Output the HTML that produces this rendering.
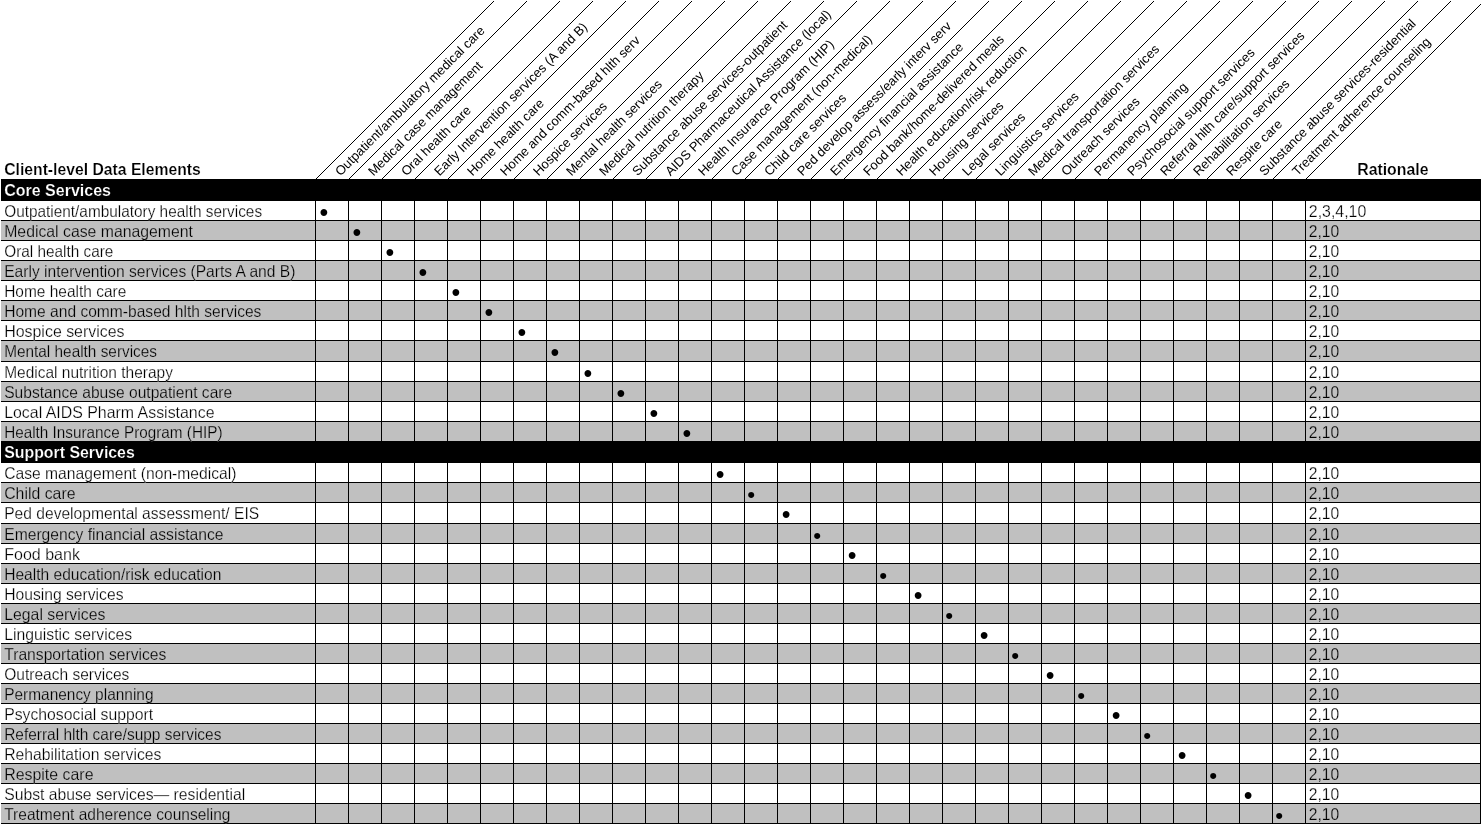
<!DOCTYPE html>
<html lang="en"><head><meta charset="utf-8"><title>Client-level Data Elements</title>
<style>html,body{margin:0;padding:0;background:#fff}body{width:1481px;height:824px;overflow:hidden}svg{display:block}text{font-family:"Liberation Sans",sans-serif;fill:#000}.r{font-size:16.5px}.b{font-size:16.5px;font-weight:bold}.w{fill:#fff}.h{font-size:13.0px}.d{font-size:25px;text-anchor:middle}.e{font-size:22.5px;text-anchor:middle}.tw{stroke:#fff;stroke-width:.25px}.tg{stroke:#c0c0c0;stroke-width:.25px}.b{stroke:#fff;stroke-width:.2px}.b.w{stroke:#000}.g{fill:#c0c0c0}.k{fill:#000}.l{stroke:#000;stroke-width:1;fill:none}</style></head><body>
<svg width="1481" height="824" viewBox="0 0 1481 824">
<rect width="1481" height="824" fill="#fff"/>
<g shape-rendering="crispEdges">
<rect class="g" x="1" y="221" width="1480" height="19"/>
<rect class="g" x="1" y="261" width="1480" height="19"/>
<rect class="g" x="1" y="301" width="1480" height="19"/>
<rect class="g" x="1" y="341" width="1480" height="20"/>
<rect class="g" x="1" y="382" width="1480" height="19"/>
<rect class="g" x="1" y="422" width="1480" height="19"/>
<rect class="g" x="1" y="483" width="1480" height="19"/>
<rect class="g" x="1" y="524" width="1480" height="19"/>
<rect class="g" x="1" y="564" width="1480" height="19"/>
<rect class="g" x="1" y="604" width="1480" height="19"/>
<rect class="g" x="1" y="644" width="1480" height="19"/>
<rect class="g" x="1" y="684" width="1480" height="19"/>
<rect class="g" x="1" y="724" width="1480" height="19"/>
<rect class="g" x="1" y="764" width="1480" height="19"/>
<rect class="g" x="1" y="804" width="1480" height="19"/>
<rect class="k" x="1" y="179" width="1480" height="22"/>
<rect class="k" x="1" y="441" width="1480" height="22"/>
<rect class="k" x="1" y="220" width="1480" height="1"/>
<rect class="k" x="1" y="240" width="1480" height="1"/>
<rect class="k" x="1" y="260" width="1480" height="1"/>
<rect class="k" x="1" y="280" width="1480" height="1"/>
<rect class="k" x="1" y="300" width="1480" height="1"/>
<rect class="k" x="1" y="320" width="1480" height="1"/>
<rect class="k" x="1" y="340" width="1480" height="1"/>
<rect class="k" x="1" y="361" width="1480" height="1"/>
<rect class="k" x="1" y="381" width="1480" height="1"/>
<rect class="k" x="1" y="401" width="1480" height="1"/>
<rect class="k" x="1" y="421" width="1480" height="1"/>
<rect class="k" x="1" y="482" width="1480" height="1"/>
<rect class="k" x="1" y="502" width="1480" height="1"/>
<rect class="k" x="1" y="523" width="1480" height="1"/>
<rect class="k" x="1" y="543" width="1480" height="1"/>
<rect class="k" x="1" y="563" width="1480" height="1"/>
<rect class="k" x="1" y="583" width="1480" height="1"/>
<rect class="k" x="1" y="603" width="1480" height="1"/>
<rect class="k" x="1" y="623" width="1480" height="1"/>
<rect class="k" x="1" y="643" width="1480" height="1"/>
<rect class="k" x="1" y="663" width="1480" height="1"/>
<rect class="k" x="1" y="683" width="1480" height="1"/>
<rect class="k" x="1" y="703" width="1480" height="1"/>
<rect class="k" x="1" y="723" width="1480" height="1"/>
<rect class="k" x="1" y="743" width="1480" height="1"/>
<rect class="k" x="1" y="763" width="1480" height="1"/>
<rect class="k" x="1" y="783" width="1480" height="1"/>
<rect class="k" x="1" y="803" width="1480" height="1"/>
<rect class="k" x="1" y="823" width="1480" height="1"/>
<rect class="k" x="315" y="201" width="1" height="623"/>
<rect class="k" x="348" y="201" width="1" height="623"/>
<rect class="k" x="381" y="201" width="1" height="623"/>
<rect class="k" x="414" y="201" width="1" height="623"/>
<rect class="k" x="447" y="201" width="1" height="623"/>
<rect class="k" x="480" y="201" width="1" height="623"/>
<rect class="k" x="513" y="201" width="1" height="623"/>
<rect class="k" x="546" y="201" width="1" height="623"/>
<rect class="k" x="579" y="201" width="1" height="623"/>
<rect class="k" x="612" y="201" width="1" height="623"/>
<rect class="k" x="645" y="201" width="1" height="623"/>
<rect class="k" x="678" y="201" width="1" height="623"/>
<rect class="k" x="711" y="201" width="1" height="623"/>
<rect class="k" x="744" y="201" width="1" height="623"/>
<rect class="k" x="777" y="201" width="1" height="623"/>
<rect class="k" x="810" y="201" width="1" height="623"/>
<rect class="k" x="843" y="201" width="1" height="623"/>
<rect class="k" x="876" y="201" width="1" height="623"/>
<rect class="k" x="909" y="201" width="1" height="623"/>
<rect class="k" x="942" y="201" width="1" height="623"/>
<rect class="k" x="975" y="201" width="1" height="623"/>
<rect class="k" x="1008" y="201" width="1" height="623"/>
<rect class="k" x="1041" y="201" width="1" height="623"/>
<rect class="k" x="1074" y="201" width="1" height="623"/>
<rect class="k" x="1107" y="201" width="1" height="623"/>
<rect class="k" x="1140" y="201" width="1" height="623"/>
<rect class="k" x="1173" y="201" width="1" height="623"/>
<rect class="k" x="1206" y="201" width="1" height="623"/>
<rect class="k" x="1239" y="201" width="1" height="623"/>
<rect class="k" x="1272" y="201" width="1" height="623"/>
<rect class="k" x="1305" y="201" width="1" height="623"/>
<rect class="k" x="1480" y="201" width="1" height="623"/>
<line class="l" x1="315.5" y1="179.5" x2="496.0" y2="-1.0"/>
<line class="l" x1="348.5" y1="179.5" x2="529.0" y2="-1.0"/>
<line class="l" x1="381.5" y1="179.5" x2="562.0" y2="-1.0"/>
<line class="l" x1="414.5" y1="179.5" x2="595.0" y2="-1.0"/>
<line class="l" x1="447.5" y1="179.5" x2="628.0" y2="-1.0"/>
<line class="l" x1="480.5" y1="179.5" x2="661.0" y2="-1.0"/>
<line class="l" x1="513.5" y1="179.5" x2="694.0" y2="-1.0"/>
<line class="l" x1="546.5" y1="179.5" x2="727.0" y2="-1.0"/>
<line class="l" x1="579.5" y1="179.5" x2="760.0" y2="-1.0"/>
<line class="l" x1="612.5" y1="179.5" x2="793.0" y2="-1.0"/>
<line class="l" x1="645.5" y1="179.5" x2="826.0" y2="-1.0"/>
<line class="l" x1="678.5" y1="179.5" x2="859.0" y2="-1.0"/>
<line class="l" x1="711.5" y1="179.5" x2="892.0" y2="-1.0"/>
<line class="l" x1="744.5" y1="179.5" x2="925.0" y2="-1.0"/>
<line class="l" x1="777.5" y1="179.5" x2="958.0" y2="-1.0"/>
<line class="l" x1="810.5" y1="179.5" x2="991.0" y2="-1.0"/>
<line class="l" x1="843.5" y1="179.5" x2="1024.0" y2="-1.0"/>
<line class="l" x1="876.5" y1="179.5" x2="1057.0" y2="-1.0"/>
<line class="l" x1="909.5" y1="179.5" x2="1090.0" y2="-1.0"/>
<line class="l" x1="942.5" y1="179.5" x2="1123.0" y2="-1.0"/>
<line class="l" x1="975.5" y1="179.5" x2="1156.0" y2="-1.0"/>
<line class="l" x1="1008.5" y1="179.5" x2="1189.0" y2="-1.0"/>
<line class="l" x1="1041.5" y1="179.5" x2="1222.0" y2="-1.0"/>
<line class="l" x1="1074.5" y1="179.5" x2="1255.0" y2="-1.0"/>
<line class="l" x1="1107.5" y1="179.5" x2="1288.0" y2="-1.0"/>
<line class="l" x1="1140.5" y1="179.5" x2="1321.0" y2="-1.0"/>
<line class="l" x1="1173.5" y1="179.5" x2="1354.0" y2="-1.0"/>
<line class="l" x1="1206.5" y1="179.5" x2="1387.0" y2="-1.0"/>
<line class="l" x1="1239.5" y1="179.5" x2="1420.0" y2="-1.0"/>
<line class="l" x1="1272.5" y1="179.5" x2="1453.0" y2="-1.0"/>
<line class="l" x1="1305.5" y1="179.5" x2="1482.0" y2="3.0"/>
<rect x="0" y="0" width="1481" height="1" fill="#fff"/>
</g>
<text class="b" x="4.2" y="175" textLength="196.6" lengthAdjust="spacingAndGlyphs">Client-level Data Elements</text>
<text class="b" x="1357.2" y="175" textLength="71.3" lengthAdjust="spacingAndGlyphs">Rationale</text>
<text class="b w" x="4.2" y="196" textLength="106.8" lengthAdjust="spacingAndGlyphs">Core Services</text>
<text class="b w" x="4.2" y="458" textLength="130.6" lengthAdjust="spacingAndGlyphs">Support Services</text>
<text class="h" transform="translate(340.4 176.6) rotate(-45)">Outpatient/ambulatory medical care</text>
<text class="h" transform="translate(373.4 176.6) rotate(-45)">Medical case management</text>
<text class="h" transform="translate(406.4 176.6) rotate(-45)">Oral health care</text>
<text class="h" transform="translate(439.4 176.6) rotate(-45)">Early Intervention services (A and B)</text>
<text class="h" transform="translate(472.4 176.6) rotate(-45)">Home health care</text>
<text class="h" transform="translate(505.4 176.6) rotate(-45)">Home and comm-based hlth serv</text>
<text class="h" transform="translate(538.4 176.6) rotate(-45)">Hospice services</text>
<text class="h" transform="translate(571.4 176.6) rotate(-45)">Mental health services</text>
<text class="h" transform="translate(604.4 176.6) rotate(-45)">Medical nutrition therapy</text>
<text class="h" transform="translate(637.4 176.6) rotate(-45)">Substance abuse services-outpatient</text>
<text class="h" transform="translate(670.4 176.6) rotate(-45)">AIDS Pharmaceutical Assistance (local)</text>
<text class="h" transform="translate(703.4 176.6) rotate(-45)">Health Insurance Program (HIP)</text>
<text class="h" transform="translate(736.4 176.6) rotate(-45)">Case management (non-medical)</text>
<text class="h" transform="translate(769.4 176.6) rotate(-45)">Child care services</text>
<text class="h" transform="translate(802.4 176.6) rotate(-45)">Ped develop assess/early interv serv</text>
<text class="h" transform="translate(835.4 176.6) rotate(-45)">Emergency financial assistance</text>
<text class="h" transform="translate(868.4 176.6) rotate(-45)">Food bank/home-delivered meals</text>
<text class="h" transform="translate(901.4 176.6) rotate(-45)">Health education/risk reduction</text>
<text class="h" transform="translate(934.4 176.6) rotate(-45)">Housing services</text>
<text class="h" transform="translate(967.4 176.6) rotate(-45)">Legal services</text>
<text class="h" transform="translate(1000.4 176.6) rotate(-45)">Linguistics services</text>
<text class="h" transform="translate(1033.4 176.6) rotate(-45)">Medical transportation services</text>
<text class="h" transform="translate(1066.4 176.6) rotate(-45)">Outreach services</text>
<text class="h" transform="translate(1099.4 176.6) rotate(-45)">Permanency planning</text>
<text class="h" transform="translate(1132.4 176.6) rotate(-45)">Psychosocial support services</text>
<text class="h" transform="translate(1165.4 176.6) rotate(-45)">Referral hlth care/support services</text>
<text class="h" transform="translate(1198.4 176.6) rotate(-45)">Rehabilitation services</text>
<text class="h" transform="translate(1231.4 176.6) rotate(-45)">Respite care</text>
<text class="h" transform="translate(1264.4 176.6) rotate(-45)">Substance abuse services-residential</text>
<text class="h" transform="translate(1297.4 176.6) rotate(-45)">Treatment adherence counseling</text>
<text class="r tw" x="4.2" y="217" textLength="257.9" lengthAdjust="spacingAndGlyphs">Outpatient/ambulatory health services</text>
<text class="r tw" x="1308.8" y="217" textLength="57.5" lengthAdjust="spacingAndGlyphs">2,3,4,10</text>
<text class="d" x="323.8" y="221">•</text>
<text class="r tg" x="4.2" y="237" textLength="188.8" lengthAdjust="spacingAndGlyphs">Medical case management</text>
<text class="r tg" x="1308.8" y="237" textLength="30.5" lengthAdjust="spacingAndGlyphs">2,10</text>
<text class="d" x="356.8" y="241">•</text>
<text class="r tw" x="4.2" y="257" textLength="109.2" lengthAdjust="spacingAndGlyphs">Oral health care</text>
<text class="r tw" x="1308.8" y="257" textLength="30.5" lengthAdjust="spacingAndGlyphs">2,10</text>
<text class="d" x="389.8" y="261">•</text>
<text class="r tg" x="4.2" y="277" textLength="291.2" lengthAdjust="spacingAndGlyphs">Early intervention services (Parts A and B)</text>
<text class="r tg" x="1308.8" y="277" textLength="30.5" lengthAdjust="spacingAndGlyphs">2,10</text>
<text class="d" x="422.8" y="281">•</text>
<text class="r tw" x="4.2" y="297" textLength="122.1" lengthAdjust="spacingAndGlyphs">Home health care</text>
<text class="r tw" x="1308.8" y="297" textLength="30.5" lengthAdjust="spacingAndGlyphs">2,10</text>
<text class="d" x="455.8" y="301">•</text>
<text class="r tg" x="4.2" y="317" textLength="257.2" lengthAdjust="spacingAndGlyphs">Home and comm-based hlth services</text>
<text class="r tg" x="1308.8" y="317" textLength="30.5" lengthAdjust="spacingAndGlyphs">2,10</text>
<text class="d" x="488.8" y="321">•</text>
<text class="r tw" x="4.2" y="337" textLength="120.4" lengthAdjust="spacingAndGlyphs">Hospice services</text>
<text class="r tw" x="1308.8" y="337" textLength="30.5" lengthAdjust="spacingAndGlyphs">2,10</text>
<text class="d" x="521.8" y="341">•</text>
<text class="r tg" x="4.2" y="357" textLength="152.8" lengthAdjust="spacingAndGlyphs">Mental health services</text>
<text class="r tg" x="1308.8" y="357" textLength="30.5" lengthAdjust="spacingAndGlyphs">2,10</text>
<text class="d" x="554.8" y="361">•</text>
<text class="r tw" x="4.2" y="378" textLength="168.7" lengthAdjust="spacingAndGlyphs">Medical nutrition therapy</text>
<text class="r tw" x="1308.8" y="378" textLength="30.5" lengthAdjust="spacingAndGlyphs">2,10</text>
<text class="d" x="587.8" y="382">•</text>
<text class="r tg" x="4.2" y="398" textLength="228.0" lengthAdjust="spacingAndGlyphs">Substance abuse outpatient care</text>
<text class="r tg" x="1308.8" y="398" textLength="30.5" lengthAdjust="spacingAndGlyphs">2,10</text>
<text class="d" x="620.8" y="402">•</text>
<text class="r tw" x="4.2" y="418" textLength="210.3" lengthAdjust="spacingAndGlyphs">Local AIDS Pharm Assistance</text>
<text class="r tw" x="1308.8" y="418" textLength="30.5" lengthAdjust="spacingAndGlyphs">2,10</text>
<text class="d" x="653.8" y="422">•</text>
<text class="r tg" x="4.2" y="438" textLength="218.3" lengthAdjust="spacingAndGlyphs">Health Insurance Program (HIP)</text>
<text class="r tg" x="1308.8" y="438" textLength="30.5" lengthAdjust="spacingAndGlyphs">2,10</text>
<text class="d" x="686.8" y="442">•</text>
<text class="r tw" x="4.2" y="479" textLength="232.3" lengthAdjust="spacingAndGlyphs">Case management (non-medical)</text>
<text class="r tw" x="1308.8" y="479" textLength="30.5" lengthAdjust="spacingAndGlyphs">2,10</text>
<text class="d" x="720.2" y="483">•</text>
<text class="r tg" x="4.2" y="499" textLength="71.3" lengthAdjust="spacingAndGlyphs">Child care</text>
<text class="r tg" x="1308.8" y="499" textLength="30.5" lengthAdjust="spacingAndGlyphs">2,10</text>
<text class="e" x="751.2" y="502">•</text>
<text class="r tw" x="4.2" y="519" textLength="255.0" lengthAdjust="spacingAndGlyphs">Ped developmental assessment/ EIS</text>
<text class="r tw" x="1308.8" y="519" textLength="30.5" lengthAdjust="spacingAndGlyphs">2,10</text>
<text class="d" x="786.2" y="523">•</text>
<text class="r tg" x="4.2" y="540" textLength="219.4" lengthAdjust="spacingAndGlyphs">Emergency financial assistance</text>
<text class="r tg" x="1308.8" y="540" textLength="30.5" lengthAdjust="spacingAndGlyphs">2,10</text>
<text class="e" x="817.2" y="543">•</text>
<text class="r tw" x="4.2" y="560" textLength="75.8" lengthAdjust="spacingAndGlyphs">Food bank</text>
<text class="r tw" x="1308.8" y="560" textLength="30.5" lengthAdjust="spacingAndGlyphs">2,10</text>
<text class="d" x="852.2" y="564">•</text>
<text class="r tg" x="4.2" y="580" textLength="217.2" lengthAdjust="spacingAndGlyphs">Health education/risk education</text>
<text class="r tg" x="1308.8" y="580" textLength="30.5" lengthAdjust="spacingAndGlyphs">2,10</text>
<text class="e" x="883.2" y="583">•</text>
<text class="r tw" x="4.2" y="600" textLength="119.3" lengthAdjust="spacingAndGlyphs">Housing services</text>
<text class="r tw" x="1308.8" y="600" textLength="30.5" lengthAdjust="spacingAndGlyphs">2,10</text>
<text class="d" x="918.2" y="604">•</text>
<text class="r tg" x="4.2" y="620" textLength="101.2" lengthAdjust="spacingAndGlyphs">Legal services</text>
<text class="r tg" x="1308.8" y="620" textLength="30.5" lengthAdjust="spacingAndGlyphs">2,10</text>
<text class="e" x="949.2" y="623">•</text>
<text class="r tw" x="4.2" y="640" textLength="128.0" lengthAdjust="spacingAndGlyphs">Linguistic services</text>
<text class="r tw" x="1308.8" y="640" textLength="30.5" lengthAdjust="spacingAndGlyphs">2,10</text>
<text class="d" x="984.2" y="644">•</text>
<text class="r tg" x="4.2" y="660" textLength="162.2" lengthAdjust="spacingAndGlyphs">Transportation services</text>
<text class="r tg" x="1308.8" y="660" textLength="30.5" lengthAdjust="spacingAndGlyphs">2,10</text>
<text class="e" x="1015.2" y="663">•</text>
<text class="r tw" x="4.2" y="680" textLength="125.2" lengthAdjust="spacingAndGlyphs">Outreach services</text>
<text class="r tw" x="1308.8" y="680" textLength="30.5" lengthAdjust="spacingAndGlyphs">2,10</text>
<text class="d" x="1050.2" y="684">•</text>
<text class="r tg" x="4.2" y="700" textLength="149.3" lengthAdjust="spacingAndGlyphs">Permanency planning</text>
<text class="r tg" x="1308.8" y="700" textLength="30.5" lengthAdjust="spacingAndGlyphs">2,10</text>
<text class="e" x="1081.2" y="703">•</text>
<text class="r tw" x="4.2" y="720" textLength="148.9" lengthAdjust="spacingAndGlyphs">Psychosocial support</text>
<text class="r tw" x="1308.8" y="720" textLength="30.5" lengthAdjust="spacingAndGlyphs">2,10</text>
<text class="d" x="1116.2" y="724">•</text>
<text class="r tg" x="4.2" y="740" textLength="217.2" lengthAdjust="spacingAndGlyphs">Referral hlth care/supp services</text>
<text class="r tg" x="1308.8" y="740" textLength="30.5" lengthAdjust="spacingAndGlyphs">2,10</text>
<text class="e" x="1147.2" y="743">•</text>
<text class="r tw" x="4.2" y="760" textLength="157.2" lengthAdjust="spacingAndGlyphs">Rehabilitation services</text>
<text class="r tw" x="1308.8" y="760" textLength="30.5" lengthAdjust="spacingAndGlyphs">2,10</text>
<text class="d" x="1182.2" y="764">•</text>
<text class="r tg" x="4.2" y="780" textLength="89.3" lengthAdjust="spacingAndGlyphs">Respite care</text>
<text class="r tg" x="1308.8" y="780" textLength="30.5" lengthAdjust="spacingAndGlyphs">2,10</text>
<text class="e" x="1213.2" y="783">•</text>
<text class="r tw" x="4.2" y="800" textLength="241.0" lengthAdjust="spacingAndGlyphs">Subst abuse services— residential</text>
<text class="r tw" x="1308.8" y="800" textLength="30.5" lengthAdjust="spacingAndGlyphs">2,10</text>
<text class="d" x="1248.2" y="804">•</text>
<text class="r tg" x="4.2" y="820" textLength="226.3" lengthAdjust="spacingAndGlyphs">Treatment adherence counseling</text>
<text class="r tg" x="1308.8" y="820" textLength="30.5" lengthAdjust="spacingAndGlyphs">2,10</text>
<text class="e" x="1279.2" y="823">•</text>
</svg></body></html>
